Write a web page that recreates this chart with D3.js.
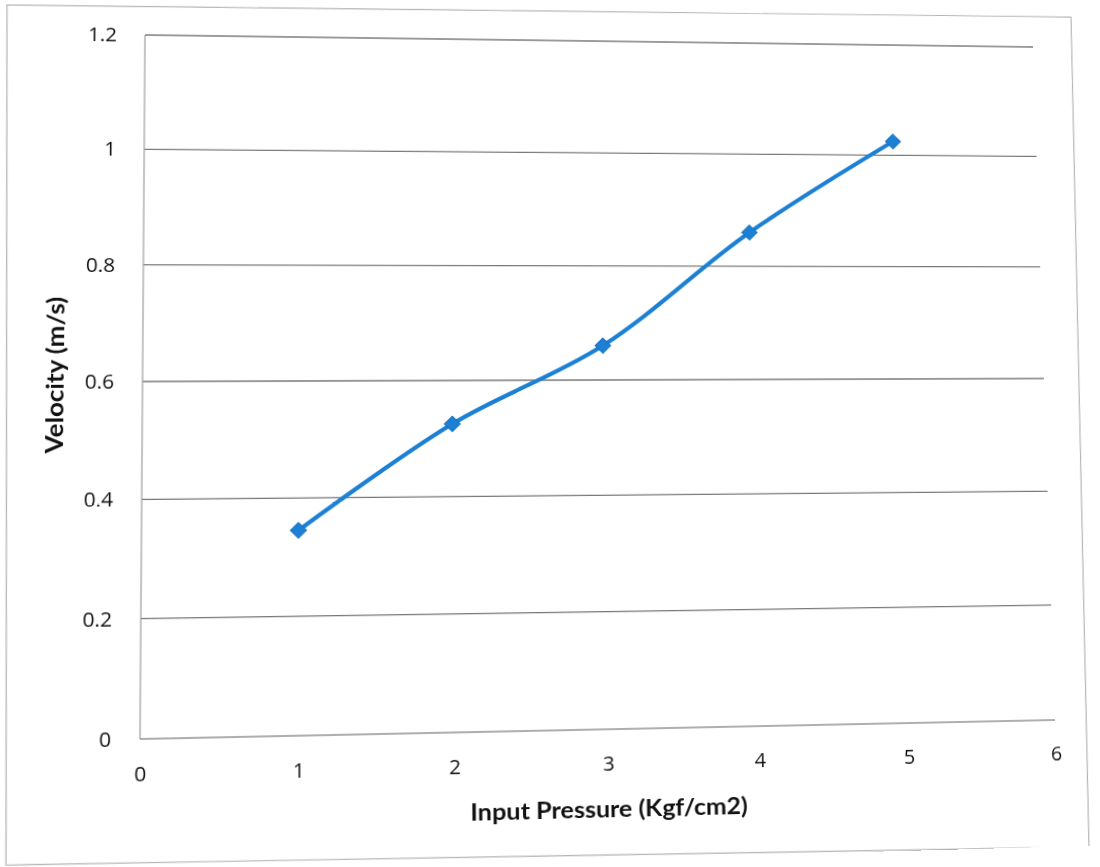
<!DOCTYPE html>
<html>
<head>
<meta charset="utf-8">
<script src="https://cdn.jsdelivr.net/npm/d3@7"></script>
<style>
  html, body { margin: 0; padding: 0; background: #fff; overflow: hidden; }
  #chart { position: absolute; left: 0; top: 0; transform-origin: 0 0; }
  text { fill: #111; }
</style>
</head>
<body>
<svg id="chart" width="1100" height="867"></svg>
<script>
// ---- data ----
const pressure = [1, 2, 3, 4, 5];
const velocity = [0.345, 0.525, 0.66, 0.86, 1.025];
const xTicks = [0, 1, 2, 3, 4, 5, 6];
const yTicks = [0, 0.2, 0.4, 0.6, 0.8, 1, 1.2];
const xTitle = "Input Pressure (Kgf/cm2)";
const yTitle = "Velocity (m/s)";

// ---- flat layout ----
const plot = { left: 145, top: 35, width: 900, height: 704 };
const x = d3.scaleLinear().domain([0, 6]).range([plot.left, plot.left + plot.width]);
const y = d3.scaleLinear().domain([0, 1.2]).range([plot.top + plot.height, plot.top]);

// The printed sheet sits slightly skewed on the page, so the flat chart is
// projected with a homography: plot corners -> where they land on the sheet.
const flatCorners = [[x(0), y(1.2)], [x(6), y(1.2)], [x(0), y(0)], [x(6), y(0)]];
const sheetCorners = [[145, 35], [1033, 47], [140, 739], [1055, 720]];

function solveHomography(src, dst) {
  const A = [], b = [];
  for (let i = 0; i < 4; i++) {
    const [sx, sy] = src[i], [dx, dy] = dst[i];
    A.push([sx, sy, 1, 0, 0, 0, -sx * dx, -sy * dx]); b.push(dx);
    A.push([0, 0, 0, sx, sy, 1, -sx * dy, -sy * dy]); b.push(dy);
  }
  const n = 8;
  for (let c = 0; c < n; c++) {
    let p = c;
    for (let r = c + 1; r < n; r++) if (Math.abs(A[r][c]) > Math.abs(A[p][c])) p = r;
    [A[c], A[p]] = [A[p], A[c]]; [b[c], b[p]] = [b[p], b[c]];
    for (let r = 0; r < n; r++) {
      if (r === c) continue;
      const f = A[r][c] / A[c][c];
      for (let k = c; k < n; k++) A[r][k] -= f * A[c][k];
      b[r] -= f * b[c];
    }
  }
  return b.map((v, i) => v / A[i][i]); // a b c d e f g h
}
function applyH(h, [px, py]) {
  const w = h[6] * px + h[7] * py + 1;
  return [(h[0] * px + h[1] * py + h[2]) / w, (h[3] * px + h[4] * py + h[5]) / w];
}

const H = solveHomography(flatCorners, sheetCorners);
const Hinv = solveHomography(sheetCorners, flatCorners);
const [a, b_, c, d, e, f, g, h] = H;
d3.select("#chart").style("transform",
  `matrix3d(${a},${d},0,${g},${b_},${e},0,${h},0,0,1,0,${c},${f},0,1)`);

const svg = d3.select("#chart");
const font = "'Open Sans', Lato, sans-serif";
const titleFont = "Lato, 'Open Sans', sans-serif";

// chart-area frame (edges of the printed chart box)
const frameOnSheet = [[7, 5], [1071, 17], [1089, 847], [6, 865]];
svg.append("polygon")
  .attr("points", frameOnSheet.map(p => applyH(Hinv, p).join(",")).join(" "))
  .attr("fill", "#fff")
  .attr("stroke", "#b4b4b4")
  .attr("stroke-width", 1.2);

// horizontal gridlines (the 0 line doubles as the category axis)
svg.append("g")
  .selectAll("line")
  .data(yTicks)
  .join("line")
  .attr("x1", x(0)).attr("x2", x(6))
  .attr("y1", d => y(d)).attr("y2", d => y(d))
  .attr("stroke", d => d === 0 ? "#959595" : "#787878")
  .attr("stroke-width", 1.3);

// value axis line
svg.append("line")
  .attr("x1", x(0)).attr("x2", x(0))
  .attr("y1", y(0)).attr("y2", y(1.2))
  .attr("stroke", "#a0a0a0")
  .attr("stroke-width", 1.2);

// tick labels
const yAxis = d3.axisLeft(y).tickValues(yTicks).tickSize(0).tickPadding(27)
  .tickFormat(d3.format("~g"));
const gy = svg.append("g").attr("transform", `translate(${x(0)},0)`).call(yAxis);
gy.select(".domain").remove();
gy.selectAll("text")
  .attr("font-family", font)
  .attr("font-size", 20)
  .attr("fill", "#151515");

const xAxis = d3.axisBottom(x).tickValues(xTicks).tickSize(0).tickPadding(27)
  .tickFormat(d3.format("d"));
const gx = svg.append("g").attr("transform", `translate(0,${y(0)})`).call(xAxis);
gx.select(".domain").remove();
gx.selectAll("text")
  .attr("font-family", font)
  .attr("font-size", 20)
  .attr("fill", "#151515");

// axis titles
svg.append("text")
  .attr("x", 596).attr("y", 817)
  .attr("text-anchor", "middle")
  .attr("dominant-baseline", "central")
  .attr("font-family", titleFont)
  .attr("font-weight", 700)
  .attr("font-size", 23)
  .attr("textLength", 272)
  .attr("lengthAdjust", "spacingAndGlyphs")
  .text(xTitle);

svg.append("text")
  .attr("transform", `translate(61,380) rotate(-90)`)
  .attr("text-anchor", "middle")
  .attr("dominant-baseline", "central")
  .attr("font-family", titleFont)
  .attr("font-weight", 700)
  .attr("font-size", 23)
  .attr("textLength", 156)
  .attr("lengthAdjust", "spacingAndGlyphs")
  .text(yTitle);

// series
const blue = "#1c80d4";
const pts = pressure.map((p, i) => [p, velocity[i]]);
svg.append("path")
  .datum(pts)
  .attr("fill", "none")
  .attr("stroke", blue)
  .attr("stroke-width", 4.2)
  .attr("stroke-linejoin", "round")
  .attr("d", d3.line().x(d => x(d[0])).y(d => y(d[1])).curve(d3.curveCatmullRom.alpha(0.5)));

svg.append("g")
  .selectAll("rect")
  .data(pts)
  .join("rect")
  .attr("x", -5.5).attr("y", -5.5)
  .attr("width", 11).attr("height", 11)
  .attr("fill", blue)
  .attr("stroke", "#1872c2")
  .attr("stroke-width", 1)
  .attr("transform", d => `translate(${x(d[0])},${y(d[1])}) rotate(45)`);
</script>
</body>
</html>
